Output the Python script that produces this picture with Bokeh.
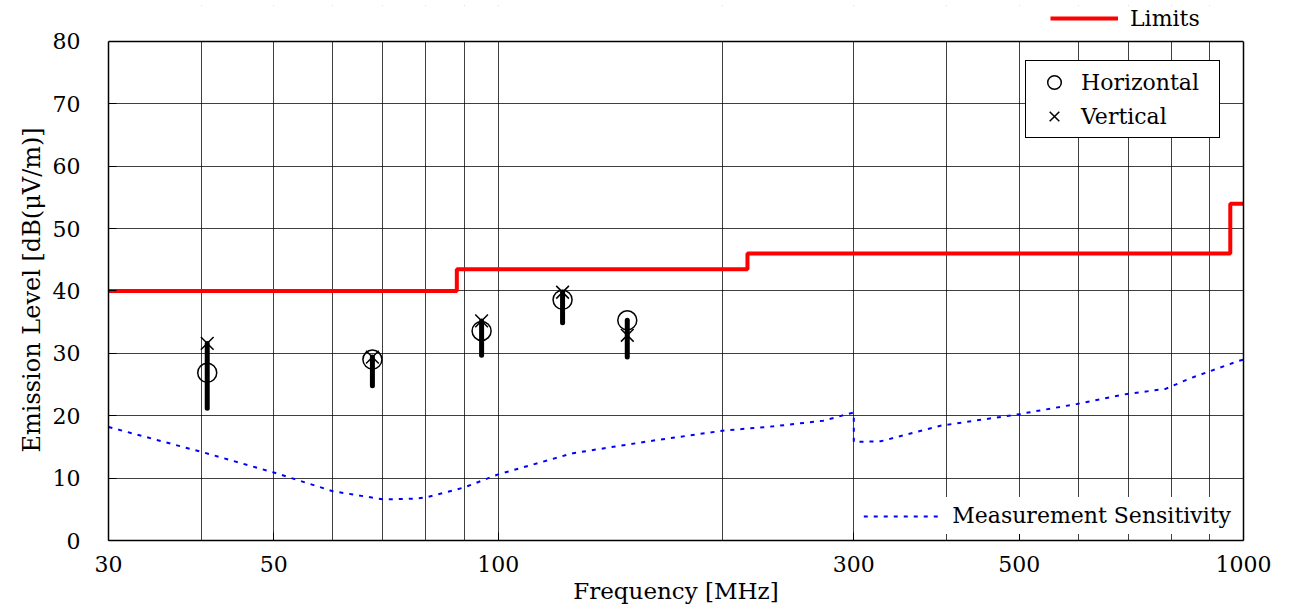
import numpy as np
from bokeh.plotting import figure
from bokeh.models import (Legend, LegendItem, FixedTicker, Range1d, LinearAxis,
                          BoxAnnotation, Span, Title)
from bokeh.embed import file_html
from bokeh.resources import INLINE

# ---- data ----
limit_freq = [30, 88, 216, 960, 1000]
limit_level = [40, 43.5, 46, 54, 54]

sens_freq = [30, 40, 50, 60, 70, 77, 80, 90, 100, 126, 159, 200, 234, 273, 295, 300,
             300, 326, 392, 497, 598, 698, 786, 844, 980, 1000]
sens_level = [18.2, 14.2, 10.9, 7.9, 6.6, 6.7, 6.9, 8.5, 10.6, 14.0, 15.9, 17.6, 18.3, 19.2, 20.3, 20.5,
              15.8, 15.9, 18.4, 20.2, 21.9, 23.5, 24.3, 25.9, 28.7, 29.0]

meas_freq = [40.7, 67.8, 95.0, 122.0, 149.0]
horizontal = [26.9, 29.0, 33.6, 38.6, 35.3]
vertical = [31.6, 29.4, 35.2, 39.8, 32.9]
bar_low = [21.2, 24.8, 29.7, 34.9, 29.4]

x_major = [30, 50, 100, 300, 500, 1000]
x_minor = [40, 60, 70, 80, 90, 200, 400, 600, 700, 800, 900]
y_ticks = [0, 10, 20, 30, 40, 50, 60, 70, 80]
Y_MAX = 80
Y_TOP = 85.77   # headroom above the plot box for the "Limits" key

FONT = "DejaVu Serif"

p = figure(width=1292, height=612, x_axis_type="log", output_backend="svg",
           toolbar_location=None, x_range=Range1d(30, 1000), y_range=Range1d(0, Y_TOP),
           min_border_left=108, min_border_right=49, min_border_top=5, min_border_bottom=72)
p.background_fill_color = "white"
p.border_fill_color = "white"
p.outline_line_color = None

# axes
p.xaxis.ticker = FixedTicker(ticks=x_major, minor_ticks=x_minor)
p.xaxis.major_label_overrides = {v: str(v) for v in x_major}
p.yaxis.ticker = FixedTicker(ticks=y_ticks)
p.yaxis.bounds = (0, Y_MAX)
for ax in (p.xaxis, p.yaxis):
    ax.major_tick_in = 8
    ax.major_tick_out = 0
    ax.minor_tick_in = 0
    ax.minor_tick_out = 0
    ax.axis_line_color = "black"
    ax.axis_line_width = 1.5
    ax.major_label_text_font = FONT
    ax.major_label_text_font_size = "22px"
    ax.major_label_text_color = "black"
    ax.axis_label_text_font = FONT
    ax.axis_label_text_font_size = "23px"
    ax.axis_label_text_font_style = "normal"
    ax.axis_label_text_color = "black"
p.xaxis.axis_label = "Frequency [MHz]"
p.xaxis.major_label_standoff = 15
p.yaxis.major_label_standoff = 28
p.xaxis.axis_label_standoff = 3

# y-axis title, centred on the 0-80 box rather than on the taller frame
y_title = Title(text="Emission Level [dB(μV/m)]", align="left", offset=88,
                text_font=FONT, text_font_size="24px", text_font_style="normal",
                text_color="black", standoff=8)
p.add_layout(y_title, "left")

right_ax = LinearAxis(ticker=FixedTicker(ticks=[]), bounds=(0, Y_MAX),
                      axis_line_color="black", axis_line_width=1.5,
                      major_tick_in=0, major_tick_out=0, minor_tick_in=0, minor_tick_out=0)
p.add_layout(right_ax, "right")

# grids
for g in (p.xgrid, p.ygrid):
    g.grid_line_color = "black"
    g.grid_line_alpha = 0.75
    g.grid_line_width = 1
p.xgrid.ticker = FixedTicker(ticks=x_major, minor_ticks=x_minor)
p.xgrid.minor_grid_line_color = "black"
p.xgrid.minor_grid_line_alpha = 0.75
p.xgrid.minor_grid_line_width = 1
p.ygrid.ticker = FixedTicker(ticks=y_ticks)

# sensitivity
r_sens = p.line(sens_freq, sens_level, line_color="blue", line_width=2, line_dash="4 6")

# limits
r_lim = p.step(limit_freq, limit_level, mode="after", line_color="red", line_width=4)

# measurement bars
bar_top = np.maximum(np.array(horizontal), np.array(vertical))
p.segment(x0=meas_freq, y0=bar_low, x1=meas_freq, y1=bar_top, line_color="black",
          line_width=5, line_cap="round")

r_h = p.scatter(meas_freq, horizontal, marker="circle", size=19, fill_alpha=0,
                line_color="black", line_width=1.5)
r_v = p.scatter(meas_freq, vertical, marker="x", size=18, line_color="black", line_width=1.5)

# blank strip above the plot box, and the box's top edge
p.add_layout(BoxAnnotation(bottom=Y_MAX, fill_color="white", fill_alpha=1,
                           line_color=None, line_alpha=0))
p.add_layout(Span(location=Y_MAX, dimension="width", line_color="black", line_width=1.5))

# legends
leg_hv = Legend(items=[LegendItem(label="Horizontal", renderers=[r_h]),
                       LegendItem(label="Vertical", renderers=[r_v])],
                location=(917, 402), padding=4, spacing=0,
                label_text_font=FONT, label_text_font_size="22px", label_text_color="black",
                label_standoff=3,
                glyph_width=48, glyph_height=34, label_height=34, label_width=134,
                border_line_color="black", border_line_width=1.5, border_line_alpha=1,
                background_fill_color="white", background_fill_alpha=1)
p.add_layout(leg_hv)

leg_s = Legend(items=[LegendItem(label="Measurement Sensitivity", renderers=[r_sens])],
               location="bottom_right", margin=6, padding=6,
               label_text_font=FONT, label_text_font_size="22px", label_text_color="black",
               label_standoff=13,
               glyph_width=76, glyph_height=22, label_height=22,
               border_line_alpha=0, background_fill_color="white", background_fill_alpha=1)
p.add_layout(leg_s)

leg_l = Legend(items=[LegendItem(label="Limits", renderers=[r_lim])],
               location=(942, 509), padding=0,
               label_text_font=FONT, label_text_font_size="22px", label_text_color="black",
               label_standoff=12,
               glyph_width=68, glyph_height=26, label_height=26,
               border_line_alpha=0, background_fill_alpha=0)
p.add_layout(leg_l)

open("out.html", "w").write(file_html(p, INLINE))
